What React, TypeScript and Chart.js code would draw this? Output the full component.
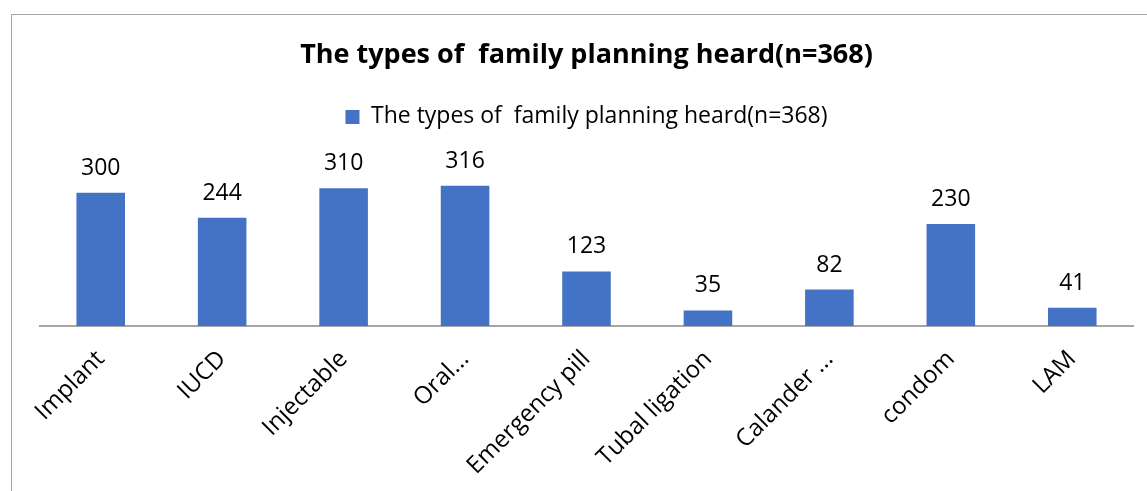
import React, { useEffect, useRef } from "react";
import { Chart, registerables } from "chart.js";

Chart.register(...registerables);

const categories = [
  "Implant",
  "IUCD",
  "Injectable",
  "Oral...",
  "Emergency pill",
  "Tubal ligation",
  "Calander ...",
  "condom",
  "LAM",
];
const seriesLabel = "The types of  family planning heard(n=368)";
const values = [300, 244, 310, 316, 123, 35, 82, 230, 41];
const titleText = "The types of  family planning heard(n=368)";

const FONT = "'Open Sans', sans-serif";

const framePlugin = {
  id: "frame",
  beforeDraw(chart: any) {
    const ctx = chart.ctx;
    ctx.save();
    ctx.fillStyle = "#ffffff";
    ctx.fillRect(0, 0, chart.width, chart.height);
    ctx.strokeStyle = "#a6a6a6";
    ctx.lineWidth = 1;
    ctx.strokeRect(11.5, 14.5, chart.width + 10, chart.height + 10);
    ctx.restore();
  },
};

const dataLabelPlugin = {
  id: "dataLabels",
  afterDatasetsDraw(chart: any) {
    const ctx = chart.ctx;
    const meta = chart.getDatasetMeta(0);
    ctx.save();
    ctx.font = `23px ${FONT}`;
    ctx.fillStyle = "#000000";
    ctx.textAlign = "center";
    ctx.textBaseline = "alphabetic";
    meta.data.forEach((bar: any, i: number) => {
      ctx.fillText(String(chart.data.datasets[0].data[i]), bar.x, bar.y - 18);
    });
    ctx.restore();
  },
};

export default function App() {
  const ref = useRef<HTMLCanvasElement>(null);
  useEffect(() => {
    if (!ref.current) return;
    const chart = new Chart(ref.current, {
      type: "bar",
      data: {
        labels: categories,
        datasets: [
          {
            label: seriesLabel,
            data: values,
            backgroundColor: "#4472C4",
            borderWidth: 0,
            categoryPercentage: 1,
            barPercentage: 0.4,
          },
        ],
      },
      options: {
        responsive: false,
        animation: false,
        layout: { padding: { left: 40, right: 14, top: 0, bottom: 0 } },
        plugins: {
          title: {
            display: true,
            text: titleText,
            color: "#000000",
            font: { family: FONT, size: 27, weight: "bold" },
            padding: { top: 39, bottom: 24 },
          },
          subtitle: {
            display: true,
            text: " ",
            weight: 500,
            font: { size: 1 },
            padding: { top: 0, bottom: 31 },
          },
          legend: {
            display: true,
            position: "top",
            labels: {
              color: "#000000",
              font: { family: FONT, size: 23 },
              boxWidth: 14,
              boxHeight: 14,
              padding: 10,
            },
          },
          tooltip: { enabled: false },
        },
        scales: {
          x: {
            grid: { display: false, drawTicks: false },
            border: { display: true, color: "#a6a6a6", width: 2 },
            ticks: {
              color: "#000000",
              font: { family: FONT, size: 24 },
              minRotation: 45,
              maxRotation: 45,
              autoSkip: false,
              padding: 19,
            },
            afterFit(scale: any) {
              scale.height = 165;
            },
          },
          y: {
            display: false,
            min: 0,
            max: 350,
          },
        },
      },
      plugins: [framePlugin, dataLabelPlugin],
    });
    return () => chart.destroy();
  }, []);
  return (
    <canvas
      ref={ref}
      width={1147}
      height={491}
      style={{ position: "absolute", left: 0, top: 0, display: "block" }}
    />
  );
}
